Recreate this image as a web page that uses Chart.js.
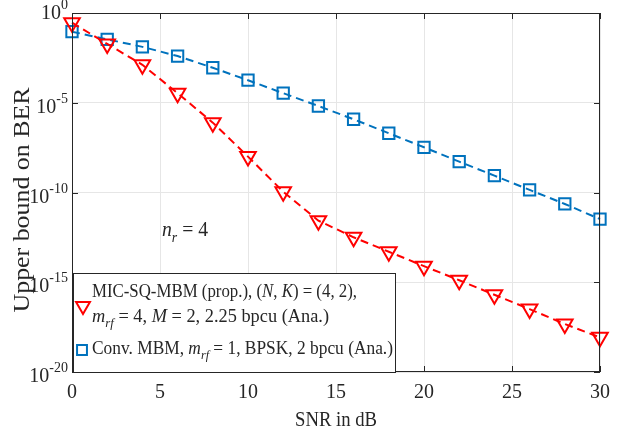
<!DOCTYPE html>
<html>
<head>
<meta charset="utf-8">
<script src="https://cdn.jsdelivr.net/npm/chart.js@4/dist/chart.umd.min.js"></script>
<style>
  html, body { margin: 0; padding: 0; background: #fff; }
  #wrap { width: 624px; height: 437px; }
</style>
</head>
<body>
<div id="wrap"><canvas id="berChart" width="624" height="437"></canvas></div>
<script>
// SNR points (dB)
const snr = [0, 2, 4, 6, 8, 10, 12, 14, 16, 18, 20, 22, 24, 26, 28, 30];

// MIC-SQ-MBM (proposed), upper bound on BER
const berProp = [2.9e-1, 1.9e-2, 1.3e-3, 3.4e-5, 7.8e-7, 1.0e-8, 1.1e-10, 2.7e-12,
                 3.2e-13, 5.0e-14, 7.9e-15, 1.3e-15, 2.0e-16, 3.2e-17, 4.7e-18, 8.5e-19];

// Conventional MBM, upper bound on BER
const berConv = [9.1e-2, 3.4e-2, 1.3e-2, 4.0e-3, 8.9e-4, 1.8e-4, 3.4e-5, 6.6e-6,
                 1.2e-6, 2.0e-7, 3.3e-8, 5.2e-9, 8.7e-10, 1.4e-10, 2.3e-11, 3.3e-12];

const xTicks = [0, 5, 10, 15, 20, 25, 30];
const yTickExps = [0, -5, -10, -15, -20];

// legend text, split in [text, style] pieces: '' roman, 'i' italic, 's' italic subscript
const legendProp = [
  [['MIC-SQ-MBM (prop.), (', ''], ['N', 'i'], [', ', ''], ['K', 'i'], [') = (4, 2),', '']],
  [['m', 'i'], ['rf', 's'], [' = 4, ', ''], ['M', 'i'], [' = 2, 2.25 bpcu (Ana.)', '']]
];
const legendConv = [['Conv. MBM, ', ''], ['m', 'i'], ['rf', 's'], [' = 1, BPSK, 2 bpcu (Ana.)', '']];
const noteText = [['n', 'i'], ['r', 's'], [' = 4', '']];

const RED = '#ff0000';
const BLUE = '#0072bd';
const FONT = '"Liberation Serif", "DejaVu Serif", serif';

// draws a line of mixed roman/italic/sub/superscript text, optionally squeezed to a width
function richText(ctx, parts, x, y, size, width, align) {
  const fontOf = p => (p[1] === 'i' || p[1] === 's' ? 'italic ' : '') +
    (p[1] === 's' || p[1] === 'u' ? size * 0.7 : size) + 'px ' + FONT;
  let total = 0;
  const widths = parts.map(p => {
    ctx.font = fontOf(p);
    const w = ctx.measureText(p[0]).width;
    total += w;
    return w;
  });
  const k = width ? width / total : 1;
  const drawn = total * k;
  let x0 = x;
  if (align === 'center') x0 = x - drawn / 2;
  if (align === 'right') x0 = x - drawn;
  ctx.save();
  ctx.translate(x0, y);
  ctx.scale(k, 1);
  ctx.textAlign = 'left';
  ctx.textBaseline = 'alphabetic';
  let cx = 0;
  parts.forEach((p, i) => {
    ctx.font = fontOf(p);
    let dy = 0;
    if (p[1] === 's') dy = size * 0.25;
    if (p[1] === 'u') dy = -size * 0.5;
    ctx.fillText(p[0], cx, dy);
    cx += widths[i];
  });
  ctx.restore();
}

const decorPlugin = {
  id: 'decor',
  afterDraw(chart) {
    const ctx = chart.ctx;
    const area = chart.chartArea;
    const xs = chart.scales.x;
    const ys = chart.scales.y;
    ctx.save();
    ctx.fillStyle = '#262626';

    // axes box with inward ticks
    ctx.strokeStyle = '#262626';
    ctx.lineWidth = 1;
    ctx.strokeRect(area.left + 0.5, area.top + 0.5, area.right - area.left - 1, area.bottom - area.top - 1);
    ctx.beginPath();
    xTicks.forEach(v => {
      const px = Math.round(xs.getPixelForValue(v)) + 0.5;
      ctx.moveTo(px, area.bottom); ctx.lineTo(px, area.bottom - 6);
      ctx.moveTo(px, area.top); ctx.lineTo(px, area.top + 6);
    });
    yTickExps.forEach(e => {
      const py = Math.round(ys.getPixelForValue(Math.pow(10, e))) + 0.5;
      ctx.moveTo(area.left, py); ctx.lineTo(area.left + 6, py);
      ctx.moveTo(area.right, py); ctx.lineTo(area.right - 6, py);
    });
    ctx.stroke();

    // tick labels
    xTicks.forEach(v => {
      const px = xs.getPixelForValue(v);
      richText(ctx, [[String(v), '']], px, 398, 20, null, 'center');
    });
    yTickExps.forEach((e, i) => {
      const py = ys.getPixelForValue(Math.pow(10, e));
      richText(ctx, [['10', ''], [String(e), 'u']], 68, i === 0 ? py + 6 : py + 10, 20, null, 'right');
    });

    // axis titles
    richText(ctx, [['SNR in dB', '']], (area.left + area.right) / 2, 426, 21, 82, 'center');
    ctx.save();
    ctx.translate(29, 200);
    ctx.rotate(-Math.PI / 2);
    richText(ctx, [['Upper bound on BER', '']], 0, 0, 23, 225, 'center');
    ctx.restore();

    // annotation
    richText(ctx, noteText, 162, 236, 22, 46, 'left');

    // legend
    const lx = 73, ly = 273, lw = 322, lh = area.bottom - ly;
    ctx.fillStyle = '#ffffff';
    ctx.fillRect(lx, ly, lw, lh);
    ctx.strokeStyle = '#262626';
    ctx.strokeRect(lx + 0.5, ly + 0.5, lw, lh);
    ctx.fillStyle = '#262626';
    richText(ctx, legendProp[0], 92, 297, 18, 265, 'left');
    richText(ctx, legendProp[1], 92, 322, 18, 237, 'left');
    richText(ctx, legendConv, 92, 354, 18, 301, 'left');

    ctx.fillStyle = 'rgba(0,0,0,0)';
    ctx.lineWidth = 2;
    ctx.strokeStyle = RED;
    Chart.helpers.drawPoint(ctx, { pointStyle: 'triangle', rotation: 180, radius: 8, borderWidth: 2 }, 83, 306);
    ctx.strokeStyle = BLUE;
    Chart.helpers.drawPoint(ctx, { pointStyle: 'rect', rotation: 0, radius: 7, borderWidth: 2 }, 82, 350);
    ctx.restore();
  }
};

new Chart(document.getElementById('berChart'), {
  type: 'line',
  data: {
    datasets: [
      {
        label: 'MIC-SQ-MBM (prop.)',
        data: snr.map((s, i) => ({ x: s, y: berProp[i] })),
        borderColor: RED,
        borderWidth: 2,
        borderDash: [8, 5],
        pointStyle: 'triangle',
        rotation: 180,
        pointRadius: 9,
        pointBorderWidth: 2,
        pointBorderColor: RED,
        pointBackgroundColor: 'rgba(0,0,0,0)',
        tension: 0,
        clip: false
      },
      {
        label: 'Conv. MBM',
        data: snr.map((s, i) => ({ x: s, y: berConv[i] })),
        borderColor: BLUE,
        borderWidth: 2,
        borderDash: [8, 5],
        pointStyle: 'rect',
        pointRadius: 8,
        pointBorderWidth: 2,
        pointBorderColor: BLUE,
        pointBackgroundColor: 'rgba(0,0,0,0)',
        tension: 0,
        clip: false
      }
    ]
  },
  options: {
    responsive: false,
    animation: false,
    events: [],
    layout: { padding: { left: 72, right: 24, top: 13, bottom: 65 } },
    plugins: { legend: { display: false }, tooltip: { enabled: false } },
    scales: {
      x: {
        type: 'linear',
        min: 0,
        max: 30,
        afterBuildTicks: s => { s.ticks = xTicks.map(v => ({ value: v })); },
        afterFit: s => { s.height = 0; },
        ticks: { display: false },
        grid: { color: '#e6e6e6', drawTicks: false },
        border: { display: false }
      },
      y: {
        type: 'logarithmic',
        min: 1e-20,
        max: 1,
        afterBuildTicks: s => { s.ticks = yTickExps.map(e => ({ value: Math.pow(10, e) })); },
        afterFit: s => { s.width = 0; },
        ticks: { display: false },
        grid: { color: '#e6e6e6', drawTicks: false },
        border: { display: false }
      }
    }
  },
  plugins: [decorPlugin]
});
</script>
</body>
</html>
